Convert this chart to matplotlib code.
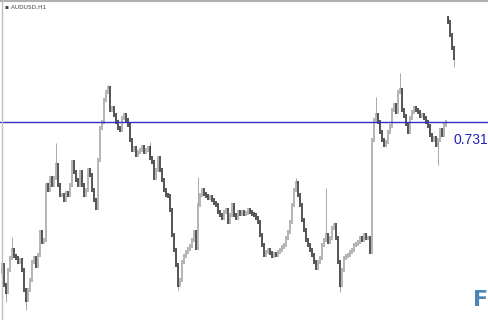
import matplotlib
matplotlib.use("Agg")
import matplotlib.pyplot as plt
import numpy as np

symbol_title = "AUDUSD,H1"
level_price = 0.7310
level_label = "0.7310"
first_open = 0.7160

# hourly closes before the gap
closes_main = [
    0.7167, 0.7147, 0.7140, 0.7162, 0.7174, 0.7182, 0.7176, 0.7174, 0.7170, 0.7172,
    0.7162, 0.7142, 0.7132, 0.7142, 0.7152, 0.7170, 0.7174, 0.7166, 0.7177, 0.7200,
    0.7190, 0.7192, 0.7247, 0.7242, 0.7254, 0.7247, 0.7254, 0.7267, 0.7247, 0.7237,
    0.7237, 0.7232, 0.7239, 0.7237, 0.7247, 0.7270, 0.7260, 0.7252, 0.7247, 0.7260,
    0.7247, 0.7237, 0.7242, 0.7262, 0.7257, 0.7242, 0.7232, 0.7224, 0.7272, 0.7304,
    0.7310, 0.7332, 0.7340, 0.7344, 0.7322, 0.7324, 0.7317, 0.7310, 0.7304, 0.7302,
    0.7314, 0.7317, 0.7312, 0.7307, 0.7292, 0.7282, 0.7284, 0.7277, 0.7280, 0.7282,
    0.7285, 0.7280, 0.7282, 0.7284, 0.7274, 0.7270, 0.7254, 0.7262, 0.7274, 0.7262,
    0.7252, 0.7242, 0.7237, 0.7236, 0.7222, 0.7197, 0.7182, 0.7167, 0.7147, 0.7152,
    0.7170, 0.7176, 0.7180, 0.7183, 0.7186, 0.7192, 0.7200, 0.7184, 0.7227, 0.7237,
    0.7242, 0.7238, 0.7236, 0.7234, 0.7235, 0.7232, 0.7229, 0.7227, 0.7220, 0.7217,
    0.7214, 0.7220, 0.7222, 0.7210, 0.7217, 0.7227, 0.7217, 0.7214, 0.7220, 0.7218,
    0.7220, 0.7218, 0.7219, 0.7222, 0.7220, 0.7218, 0.7217, 0.7214, 0.7210, 0.7197,
    0.7187, 0.7177, 0.7180, 0.7182, 0.7179, 0.7176, 0.7178, 0.7177, 0.7180, 0.7182,
    0.7185, 0.7187, 0.7194, 0.7200, 0.7210, 0.7227, 0.7242, 0.7249, 0.7237, 0.7227,
    0.7212, 0.7202, 0.7192, 0.7187, 0.7182, 0.7177, 0.7170, 0.7164, 0.7170, 0.7174,
    0.7187, 0.7192, 0.7197, 0.7190, 0.7194, 0.7204, 0.7207, 0.7194, 0.7170, 0.7147,
    0.7162, 0.7174, 0.7176, 0.7177, 0.7180, 0.7182, 0.7187, 0.7188, 0.7190, 0.7194,
    0.7192, 0.7197, 0.7194, 0.7194, 0.7180, 0.7292, 0.7312, 0.7317, 0.7310, 0.7300,
    0.7292, 0.7287, 0.7290, 0.7300, 0.7306, 0.7322, 0.7327, 0.7320, 0.7340, 0.7342,
    0.7322, 0.7316, 0.7308, 0.7300, 0.7314, 0.7320, 0.7324, 0.7322, 0.7320, 0.7316,
    0.7317, 0.7314, 0.7310, 0.7306, 0.7297, 0.7292, 0.7294, 0.7287, 0.7292, 0.7302,
    0.7297, 0.7307, 0.7310,
]
# after the weekend gap
gap_open = 0.7414
closes_gap = [0.7410, 0.7397, 0.7384, 0.7374]

# notable wick extremes: (bar index, price)
wick_highs = [(5, 0.7195), (27, 0.7289), (53, 0.7347), (74, 0.7290), (98, 0.7255),
              (147, 0.7254), (162, 0.7244), (187, 0.7335), (199, 0.7359), (223, 0.7415)]
wick_lows = [(2, 0.7130), (12, 0.7122), (88, 0.7142), (169, 0.7140), (218, 0.7267),
             (226, 0.7365)]

fig = plt.figure(figsize=(4.88, 3.2), dpi=100)
ax = fig.add_axes([0, 0, 1, 1])
ax.set_xlim(-1, 243)
ax.set_ylim(0.7112, 0.7432)
ax.axis("off")

def draw_session(start_idx, open0, closes):
    opens = [open0] + closes[:-1]
    idx = np.arange(start_idx, start_idx + len(closes))
    o = np.array(opens)
    c = np.array(closes)
    lo = np.minimum(o, c) - 0.0002
    hi = np.maximum(o, c) + 0.0002
    col = np.where(c >= o, "#a0a0a0", "#262626")
    ax.vlines(idx, lo, hi, colors=col, linewidth=1.1, zorder=3)

draw_session(0, first_open, closes_main)
draw_session(len(closes_main), gap_open, closes_gap)

all_closes = closes_main + closes_gap
for i, h in wick_highs:
    ax.vlines(i, all_closes[i], h, colors="#9a9a9a", linewidth=0.6, zorder=2)
for i, l in wick_lows:
    ax.vlines(i, l, all_closes[i], colors="#9a9a9a", linewidth=0.6, zorder=2)

ax.axhline(level_price, color="#2f2fc4", linewidth=1.0, zorder=4)
fig.text(454 / 488, 1 - 140 / 320, level_label, color="#2222b0", fontsize=10,
         family="Liberation Sans", va="center", ha="left")

# frame lines
fig.add_artist(plt.Line2D([0, 1], [1 - 1 / 320, 1 - 1 / 320], color="#b0b0b0", linewidth=1.5))
fig.add_artist(plt.Line2D([2 / 488, 2 / 488], [0, 1], color="#c0c0c0", linewidth=1.0))

fig.text(5 / 488, 1 - 7 / 320, "\u25aa " + symbol_title, fontsize=4.2, color="#444444",
         va="center", ha="left")
fig.text(473 / 488, 1 - 300 / 320, "F", fontsize=16, fontweight="bold", color="#4a86b8",
         va="center", ha="left")

fig.savefig("out.png", dpi=100)
